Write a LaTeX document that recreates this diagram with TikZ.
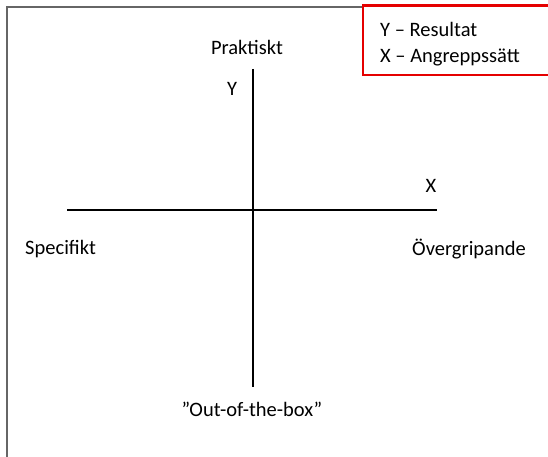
\documentclass[tikz,border=0pt]{standalone}
\usepackage{fontspec}
\setmainfont{Carlito}
\begin{document}
\begin{tikzpicture}[x=1pt,y=-1pt,
  lbl/.style={font=\fontsize{20.5}{24}\selectfont, inner sep=0pt, text=black},
  axis/.style={line width=2.8pt, black},
  frameline/.style={line width=2pt, black!60}]
\useasboundingbox (0,0) rectangle (548,457);
\fill[white] (0,0) rectangle (548,457);
% frame
\coordinate (fTL) at (7,7);
\coordinate (fTR) at (363,7);
\coordinate (fBL) at (7,457);
\draw[frameline] (fTR) -- (fTL) -- (fBL);
% key box
\draw[draw=red!90!black, line width=2.6pt] (363,5.5) rectangle (550,75);
\node[lbl, anchor=west] (ky) at (380,29) {Y – Resultat};
\node[lbl, anchor=west] (kx) at (380,57) {X – Angreppssätt};
% axes
\coordinate (yT) at (253,69);
\coordinate (yB) at (253,387);
\coordinate (xL) at (67,210);
\coordinate (xR) at (437,210);
\draw[axis] (yT) -- (yB);
\draw[axis] (xL) -- (xR);
% labels
\node[lbl] (prak) at (247,47) {Praktiskt};
\node[lbl] (ylab) at (232,89) {Y};
\node[lbl] (xlab) at (431,186) {X};
\node[lbl, anchor=west] (spec) at (25,249) {Specifikt};
\node[lbl] (over) at (469,249) {Övergripande};
\node[lbl] (oob) at (252,409) {”Out-of-the-box”};
\end{tikzpicture}
\end{document}
